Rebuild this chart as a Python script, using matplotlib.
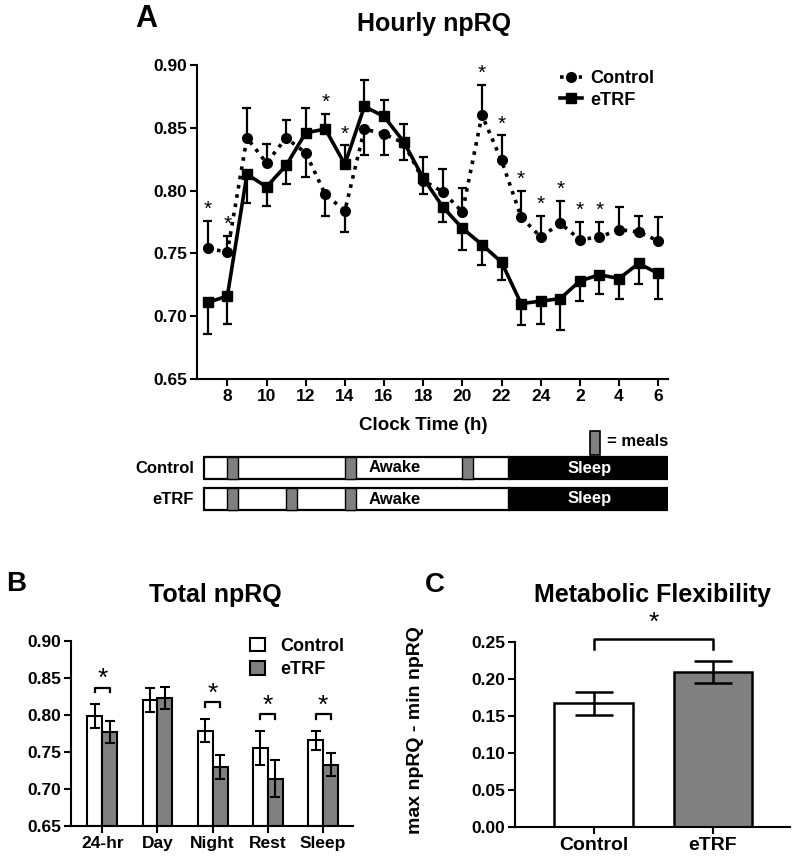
import matplotlib
matplotlib.use('Agg')
import matplotlib.pyplot as plt
from matplotlib.patches import Rectangle, Patch
from matplotlib.lines import Line2D
from matplotlib.ticker import FormatStrFormatter
import numpy as np

plt.rcParams['font.family'] = ['Liberation Sans', 'DejaVu Sans']
plt.rcParams['font.weight'] = 'bold'
plt.rcParams['axes.linewidth'] = 1.5

# ---- data: panel A (hourly npRQ, clock hours 7 .. 30 = 6 next day)
hours = np.arange(7, 31)
ctrl = np.array([0.754, 0.751, 0.842, 0.822, 0.842, 0.830, 0.797, 0.784, 0.849, 0.845, 0.838, 0.808,
                 0.799, 0.783, 0.860, 0.824, 0.779, 0.763, 0.774, 0.761, 0.763, 0.769, 0.767, 0.760])
ctrl_err = np.array([0.022, 0.013, 0.024, 0.015, 0.014, 0.019, 0.017, 0.017, 0.021, 0.017, 0.014, 0.011,
                     0.018, 0.019, 0.024, 0.020, 0.021, 0.017, 0.018, 0.014, 0.012, 0.018, 0.013, 0.019])
etrf = np.array([0.711, 0.716, 0.813, 0.803, 0.820, 0.846, 0.849, 0.821, 0.867, 0.859, 0.839, 0.810,
                 0.787, 0.770, 0.757, 0.743, 0.710, 0.712, 0.714, 0.728, 0.733, 0.730, 0.742, 0.734])
etrf_err = np.array([0.025, 0.022, 0.023, 0.015, 0.015, 0.020, 0.012, 0.015, 0.021, 0.013, 0.014, 0.017,
                     0.012, 0.017, 0.016, 0.014, 0.017, 0.018, 0.025, 0.016, 0.015, 0.016, 0.016, 0.020])
sig_hours = [7, 8, 13, 14, 21, 22, 23, 24, 25, 26, 27]
tick_hours = list(range(8, 31, 2))
tick_labels = ['8', '10', '12', '14', '16', '18', '20', '22', '24', '2', '4', '6']

# meal schedule (clock hours)
day_start = 6.8
sleep_start = 22.4
day_end = 30.55
meals_ctrl = [8, 14, 20]
meals_etrf = [8, 11, 14]
meal_len = 0.55

# ---- data: panel B (total npRQ)
periods = ['24-hr', 'Day', 'Night', 'Rest', 'Sleep']
tot_ctrl = [0.799, 0.820, 0.779, 0.756, 0.766]
tot_ctrl_err = [0.016, 0.016, 0.016, 0.023, 0.013]
tot_etrf = [0.777, 0.823, 0.730, 0.714, 0.733]
tot_etrf_err = [0.015, 0.015, 0.016, 0.025, 0.016]
tot_sig = [0, 2, 3, 4]

# ---- data: panel C (metabolic flexibility)
groups = ['Control', 'eTRF']
flex = [0.167, 0.209]
flex_err = [0.015, 0.015]

GRAY = '#808080'
W, H = 800, 866


def box(l, t, r, b):
    return [l / W, 1 - b / H, (r - l) / W, (b - t) / H]


def fx(x):
    return x / W


def fy(y):
    return 1 - y / H


def style(ax):
    ax.spines['top'].set_visible(False)
    ax.spines['right'].set_visible(False)
    ax.tick_params(direction='out', length=5, width=1.5, labelsize=12.5, pad=2)


fig = plt.figure(figsize=(8, 8.66), dpi=100)

# ================= A =================
ax = fig.add_axes(box(197, 65, 668, 379))
style(ax)
ax.set_xlim(6.45, 30.5)
ax.set_ylim(0.65, 0.90)
ax.set_yticks(np.arange(0.65, 0.901, 0.05))
ax.yaxis.set_major_formatter(FormatStrFormatter('%.2f'))
ax.set_xticks(tick_hours)
ax.set_xticklabels(tick_labels)

cap = 0.23
up_c = ctrl >= etrf
c_end = np.where(up_c, ctrl + ctrl_err, ctrl - ctrl_err)
e_end = np.where(up_c, etrf - etrf_err, etrf + etrf_err)
ax.vlines(hours, ctrl, c_end, color='k', lw=1.6, zorder=2)
ax.hlines(c_end, hours - cap, hours + cap, color='k', lw=1.6, zorder=2)
ax.vlines(hours, etrf, e_end, color='k', lw=1.6, zorder=2)
ax.hlines(e_end, hours - cap, hours + cap, color='k', lw=1.6, zorder=2)

ax.plot(hours, ctrl, ls=(0, (1, 1.6)), lw=2.6, marker='o', ms=7, color='k', zorder=3, label='Control')
ax.plot(hours, etrf, ls='-', lw=2.6, marker='s', ms=7, color='k', zorder=3, label='eTRF')

for h in sig_hours:
    i = h - 7
    top = max(ctrl[i] + (ctrl_err[i] if up_c[i] else 0), etrf[i] + (0 if up_c[i] else etrf_err[i]))
    ax.text(h, top + 0.009, '*', ha='center', va='center', fontsize=15, fontweight='normal')

ax.legend(loc='upper left', bbox_to_anchor=(fx(560), fy(70)), bbox_transform=fig.transFigure,
          frameon=False, fontsize=13, handlelength=1.2, handletextpad=0.45, borderpad=0,
          labelspacing=0.25, borderaxespad=0)

fig.text(fx(423), fy(425), 'Clock Time (h)', ha='center', va='center', fontsize=13.5)
fig.text(fx(146), fy(19), 'A', ha='center', va='center', fontsize=22)
fig.text(fx(434), fy(24), 'Hourly npRQ', ha='center', va='center', fontsize=18)

# schedule bars
sa = fig.add_axes(box(197, 425, 668, 525))
sa.set_xlim(6.45, 30.5)
sa.set_ylim(525, 425)
sa.axis('off')
rows = [('Control', 457, meals_ctrl), ('eTRF', 488, meals_etrf)]
for name, y0, meals in rows:
    sa.add_patch(Rectangle((day_start, y0), sleep_start - day_start, 22, fc='white', ec='k', lw=1.6))
    sa.add_patch(Rectangle((sleep_start, y0), day_end - sleep_start, 22, fc='k', ec='k', lw=1.6))
    for m in meals:
        sa.add_patch(Rectangle((m, y0), meal_len, 22, fc=GRAY, ec='k', lw=1.0))
    sa.text(16.55, y0 + 11, 'Awake', ha='center', va='center', fontsize=12)
    sa.text((sleep_start + day_end) / 2, y0 + 11, 'Sleep', ha='center', va='center', fontsize=12, color='white')
    fig.text(fx(194), fy(y0 + 11), name, ha='right', va='center', fontsize=12)
sa.add_patch(Rectangle((26.5, 431), meal_len, 24, fc=GRAY, ec='k', lw=1.2, clip_on=False))
fig.text(fx(607), fy(442), '= meals', ha='left', va='center', fontsize=12)

# ================= B =================
bx = fig.add_axes(box(71, 641, 353, 826))
style(bx)
x = np.arange(len(periods))
bw = 0.27
bx.bar(x - bw / 2, np.array(tot_ctrl) - 0.65, bw, bottom=0.65, color='white', edgecolor='k', lw=1.5, label='Control')
bx.bar(x + bw / 2, np.array(tot_etrf) - 0.65, bw, bottom=0.65, color=GRAY, edgecolor='k', lw=1.5, label='eTRF')
bx.errorbar(x - bw / 2, tot_ctrl, yerr=tot_ctrl_err, fmt='none', ecolor='k', elinewidth=1.5, capsize=3.6, capthick=1.5)
bx.errorbar(x + bw / 2, tot_etrf, yerr=tot_etrf_err, fmt='none', ecolor='k', elinewidth=1.5, capsize=3.6, capthick=1.5)
for i in tot_sig:
    y = max(tot_ctrl[i] + tot_ctrl_err[i], tot_etrf[i] + tot_etrf_err[i]) + 0.022
    bx.plot([i - bw / 2, i - bw / 2, i + bw / 2, i + bw / 2], [y - 0.006, y, y, y - 0.006], color='k', lw=1.6)
    bx.text(i, y + 0.012, '*', ha='center', va='center', fontsize=19, fontweight='normal')
bx.set_xlim(-0.566, 4.54)
bx.set_ylim(0.65, 0.90)
bx.set_yticks(np.arange(0.65, 0.901, 0.05))
bx.yaxis.set_major_formatter(FormatStrFormatter('%.2f'))
bx.set_xticks(x)
bx.set_xticklabels(periods)
bx.legend(loc='upper left', bbox_to_anchor=(fx(250), fy(638)), bbox_transform=fig.transFigure,
          frameon=False, fontsize=13, handlelength=0.85, handleheight=0.75, handletextpad=0.8,
          borderpad=0, labelspacing=0.35, borderaxespad=0)
fig.text(fx(16), fy(584), 'B', ha='center', va='center', fontsize=20)
fig.text(fx(215), fy(595), 'Total npRQ', ha='center', va='center', fontsize=18)

# ================= C =================
cx = fig.add_axes(box(515, 642, 790, 827))
style(cx)
xc = np.arange(len(groups))
cx.bar(xc, flex, 0.66, color=['white', GRAY], edgecolor='k', lw=1.8)
cx.errorbar(xc, flex, yerr=flex_err, fmt='none', ecolor='k', elinewidth=1.8, capsize=14, capthick=1.8)
yb = max(f + e for f, e in zip(flex, flex_err)) + 0.03
cx.plot([0, 0, 1, 1], [yb - 0.013, yb, yb, yb - 0.013], color='k', lw=1.8, clip_on=False)
cx.text(0.5, yb + 0.022, '*', ha='center', va='center', fontsize=19, fontweight='normal')
cx.set_xlim(-0.657, 1.644)
cx.set_ylim(0, 0.25)
cx.set_yticks(np.arange(0, 0.251, 0.05))
cx.yaxis.set_major_formatter(FormatStrFormatter('%.2f'))
cx.set_xticks(xc)
cx.set_xticklabels(groups, fontsize=14)
fig.text(fx(416), fy(730), 'max npRQ - min npRQ', rotation=90, ha='center', va='center', fontsize=14)
fig.text(fx(435), fy(585), 'C', ha='center', va='center', fontsize=20)
fig.text(fx(653), fy(595), 'Metabolic Flexibility', ha='center', va='center', fontsize=18)

fig.savefig('out.png', dpi=100)
